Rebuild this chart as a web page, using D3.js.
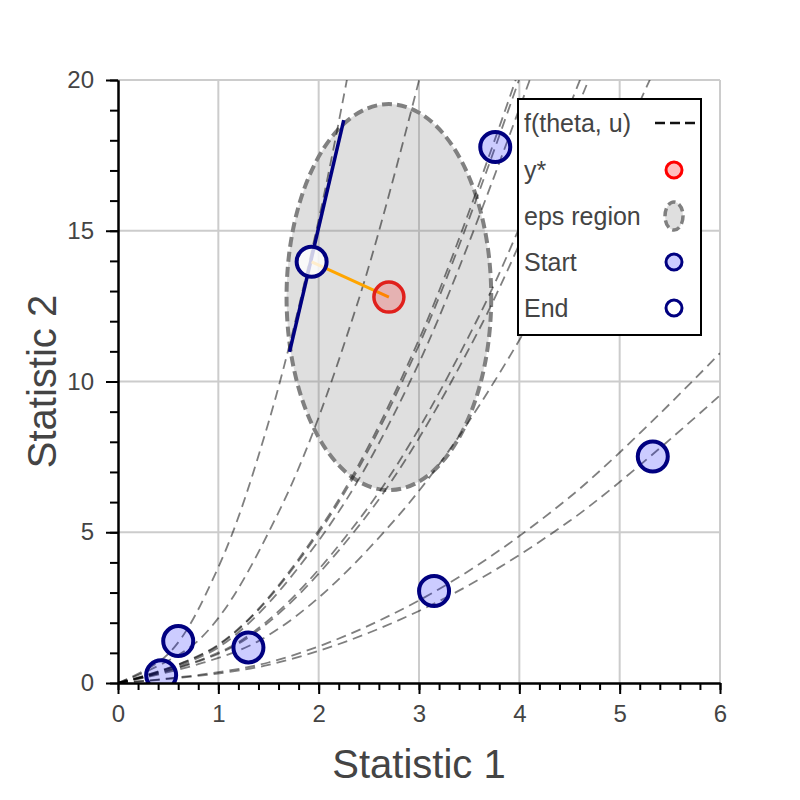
<!DOCTYPE html>
<html>
<head>
<meta charset="utf-8">
<script src="https://cdn.jsdelivr.net/npm/d3@7"></script>
<style>
  body { margin: 0; background: #fff; }
  text { font-family: "Liberation Sans", Arial, sans-serif; fill: #444; }
</style>
</head>
<body>
<script>
  //svg size and plot box
  var w = 800;
  var h = 800;
  var margin = { top: 80, right: 80, bottom: 117, left: 118 };

  //dashed model curves f(theta, u)
  var curveXs = [
      [0, 0.5, 1, 1.5, 2, 2.4],
      [0, 0.8, 1.6, 2.4, 3.2],
      [0, 1, 2, 3, 4.2],
      [0, 1, 2, 3, 4.2],
      [0, 1, 2, 3, 4.3],
      [0, 1.2, 2.4, 3.6, 4.8],
      [0, 1.2, 2.4, 3.6, 4.9],
      [0, 1.4, 2.8, 4.2, 5.5],
      [0, 1.5, 3, 4.5, 6],
      [0, 1.5, 3, 4.5, 6]
  ];
  var curveYs = [
      [0, 0.96, 3.84, 8.64, 15.36, 22.1],
      [0, 1.41, 5.66, 12.73, 22.63],
      [0, 1.27, 5.06, 11.39, 22.31],
      [0, 1.25, 4.98, 11.21, 21.96],
      [0, 1.18, 4.72, 10.62, 21.82],
      [0, 1.35, 5.41, 12.18, 21.66],
      [0, 1.30, 5.21, 11.73, 21.73],
      [0, 1.39, 5.57, 12.52, 21.48],
      [0, 0.68, 2.74, 6.16, 10.94],
      [0, 0.60, 2.39, 5.37, 9.54]
  ];

  //start points
  var startX = [0.43, 0.60, 1.30, 3.15, 5.33, 3.76];
  var startY = [0.26, 1.39, 1.18, 3.05, 7.51, 17.78];

  //end point, target y*, tangent line at the end
  var endX = [1.93];
  var endY = [13.97];
  var yStarX = [2.70];
  var yStarY = [12.80];
  var tangentX = [1.71, 2.25];
  var tangentY = [10.98, 18.67];

  //eps region (ellipse round y*)
  var epsRadius = [1.02, 6.40];

  //ticks
  var xTicks = [0, 1, 2, 3, 4, 5, 6];
  var yTicks = [0, 5, 10, 15, 20];
  var legendLabels = ["f(theta, u)", "y*", "eps region", "Start", "End"];

  //SCALES
  var x = d3.scaleLinear().domain([0, 6]).range([margin.left, w - margin.right]);
  var y = d3.scaleLinear().domain([0, 20]).range([h - margin.bottom, margin.top]);

  var svg = d3.select("body")
      .append("svg")
      .attr("width", w)
      .attr("height", h);

  svg.append("clipPath")
      .attr("id", "plotClip")
      .append("rect")
      .attr("x", x(0))
      .attr("y", y(20))
      .attr("width", x(6) - x(0))
      .attr("height", y(0) - y(20));

  //GRID
  svg.append("g")
      .selectAll("line.gx")
      .data(xTicks.slice(1))
      .enter()
      .append("line")
      .attr("x1", function(d) { return x(d); })
      .attr("x2", function(d) { return x(d); })
      .attr("y1", y(0))
      .attr("y2", y(20))
      .attr("stroke", "#ccc")
      .attr("stroke-width", 2);

  svg.append("g")
      .selectAll("line.gy")
      .data(yTicks.slice(1))
      .enter()
      .append("line")
      .attr("y1", function(d) { return y(d); })
      .attr("y2", function(d) { return y(d); })
      .attr("x1", x(0))
      .attr("x2", x(6))
      .attr("stroke", "#ccc")
      .attr("stroke-width", 2);

  var plot = svg.append("g").attr("clip-path", "url(#plotClip)");

  //EPS REGION
  plot.append("ellipse")
      .attr("cx", x(yStarX[0]))
      .attr("cy", y(yStarY[0]))
      .attr("rx", x(epsRadius[0]) - x(0))
      .attr("ry", y(0) - y(epsRadius[1]))
      .attr("fill", "grey")
      .attr("fill-opacity", 0.25)
      .attr("stroke", "grey")
      .attr("stroke-width", 4)
      .attr("stroke-dasharray", "10,5");

  //CURVES
  var line = d3.line()
      .x(function(d) { return x(d[0]); })
      .y(function(d) { return y(d[1]); })
      .curve(d3.curveCatmullRom);

  var curves = curveXs.map(function(xs, i) {
      return xs.map(function(v, j) { return [v, curveYs[i][j]]; });
  });

  plot.selectAll("path.curve")
      .data(curves)
      .enter()
      .append("path")
      .attr("class", "curve")
      .attr("d", line)
      .attr("fill", "none")
      .attr("stroke", "black")
      .attr("stroke-opacity", 0.5)
      .attr("stroke-width", 1.8)
      .attr("stroke-dasharray", "10,6");

  //tangent line at the end point
  plot.append("line")
      .attr("x1", x(tangentX[0]))
      .attr("y1", y(tangentY[0]))
      .attr("x2", x(tangentX[1]))
      .attr("y2", y(tangentY[1]))
      .attr("stroke", "navy")
      .attr("stroke-width", 3.5);

  //distance end -> y*
  plot.append("line")
      .attr("x1", x(endX[0]))
      .attr("y1", y(endY[0]))
      .attr("x2", x(yStarX[0]))
      .attr("y2", y(yStarY[0]))
      .attr("stroke", "orange")
      .attr("stroke-width", 3);

  //START POINTS
  plot.selectAll("circle.start")
      .data(startX)
      .enter()
      .append("circle")
      .attr("cx", function(d) { return x(d); })
      .attr("cy", function(d, i) { return y(startY[i]); })
      .attr("r", 15)
      .attr("fill", "blue")
      .attr("fill-opacity", 0.2)
      .attr("stroke", "navy")
      .attr("stroke-width", 4);

  //Y*
  plot.append("circle")
      .attr("cx", x(yStarX[0]))
      .attr("cy", y(yStarY[0]))
      .attr("r", 15)
      .attr("fill", "red")
      .attr("fill-opacity", 0.2)
      .attr("stroke", "#e0201c")
      .attr("stroke-width", 3.5);

  //END POINT
  plot.append("circle")
      .attr("cx", x(endX[0]))
      .attr("cy", y(endY[0]))
      .attr("r", 15)
      .attr("fill", "white")
      .attr("fill-opacity", 0.8)
      .attr("stroke", "navy")
      .attr("stroke-width", 4);

  //AXES
  var xMinor = d3.range(0, 6.001, 0.2);
  var yMinor = d3.range(0, 20.001, 1);

  var xAxis = svg.append("g")
      .attr("transform", "translate(0," + y(0) + ")");
  xAxis.append("g")
      .call(d3.axisBottom(x).tickValues(xMinor).tickSize(7).tickSizeOuter(0).tickFormat(""));
  xAxis.append("g")
      .call(d3.axisBottom(x).tickValues(xTicks).tickSize(11).tickSizeOuter(0).tickPadding(11).tickFormat(d3.format("d")));

  var yAxis = svg.append("g")
      .attr("transform", "translate(" + x(0) + ",0)");
  yAxis.append("g")
      .call(d3.axisLeft(y).tickValues(yMinor).tickSize(8).tickSizeOuter(0).tickFormat(""));
  yAxis.append("g")
      .call(d3.axisLeft(y).tickValues(yTicks).tickSize(12).tickSizeOuter(0).tickPadding(12).tickFormat(d3.format("d")));

  svg.selectAll(".domain").attr("stroke", "black").attr("stroke-width", 2);
  svg.selectAll(".tick line").attr("stroke", "black").attr("stroke-width", 2);
  svg.selectAll(".tick text")
      .attr("fill", "#444")
      .style("font-size", "24px")
      .style("font-family", "'Liberation Sans', Arial, sans-serif");

  //axis titles
  svg.append("text")
      .attr("x", (x(0) + x(6)) / 2)
      .attr("y", 778)
      .attr("text-anchor", "middle")
      .style("font-size", "40px")
      .text("Statistic 1");

  svg.append("text")
      .attr("transform", "rotate(-90)")
      .attr("x", -(y(0) + y(20)) / 2)
      .attr("y", 56)
      .attr("text-anchor", "middle")
      .style("font-size", "40px")
      .text("Statistic 2");

  //LEGEND
  var legend = svg.append("g");
  var rowY = [123, 170, 216, 262, 308];
  var symX = 674;

  legend.append("rect")
      .attr("x", 518)
      .attr("y", 99)
      .attr("width", 183)
      .attr("height", 236)
      .attr("fill", "white")
      .attr("stroke", "black")
      .attr("stroke-width", 2);

  legend.selectAll("text")
      .data(legendLabels)
      .enter()
      .append("text")
      .attr("x", 524)
      .attr("y", function(d, i) { return rowY[i]; })
      .attr("dy", "0.35em")
      .style("font-size", "25px")
      .text(function(d) { return d; });

  legend.append("line")
      .attr("x1", symX - 19)
      .attr("x2", symX + 21)
      .attr("y1", rowY[0])
      .attr("y2", rowY[0])
      .attr("stroke", "#111")
      .attr("stroke-width", 2.5)
      .attr("stroke-dasharray", "10,5");

  legend.append("circle")
      .attr("cx", symX).attr("cy", rowY[1]).attr("r", 8)
      .attr("fill", "red").attr("fill-opacity", 0.25)
      .attr("stroke", "red").attr("stroke-width", 3);

  legend.append("ellipse")
      .attr("cx", symX).attr("cy", rowY[2]).attr("rx", 9).attr("ry", 14)
      .attr("fill", "grey").attr("fill-opacity", 0.25)
      .attr("stroke", "grey").attr("stroke-width", 3.5)
      .attr("stroke-dasharray", "8,4");

  legend.append("circle")
      .attr("cx", symX).attr("cy", rowY[3]).attr("r", 8)
      .attr("fill", "blue").attr("fill-opacity", 0.2)
      .attr("stroke", "navy").attr("stroke-width", 3);

  legend.append("circle")
      .attr("cx", symX).attr("cy", rowY[4]).attr("r", 8)
      .attr("fill", "white")
      .attr("stroke", "navy").attr("stroke-width", 3);
</script>
</body>
</html>
